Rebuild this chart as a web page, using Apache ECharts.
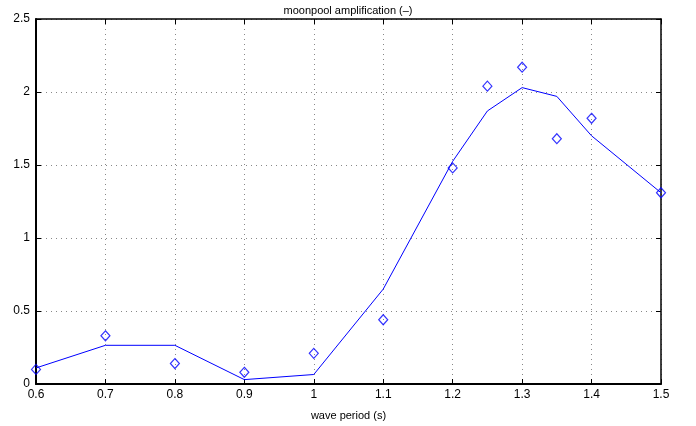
<!DOCTYPE html>
<html>
<head>
<meta charset="utf-8">
<script src="https://cdn.jsdelivr.net/npm/echarts@6/dist/echarts.min.js"></script>
<style>
  html, body { margin: 0; padding: 0; background: #fff; }
  #chart { width: 696px; height: 426px; }
</style>
</head>
<body>
<div id="chart"></div>
<script>
// wave periods (s)
var periods = [0.6, 0.7, 0.8, 0.9, 1.0, 1.1, 1.2, 1.25, 1.3, 1.35, 1.4, 1.5];
// fitted / computed amplification (line)
var lineValues = [0.11, 0.265, 0.265, 0.03, 0.065, 0.65, 1.525, 1.87, 2.03, 1.97, 1.70, 1.31];
// measured amplification (diamonds)
var measured = [0.10, 0.33, 0.14, 0.08, 0.21, 0.44, 1.48, 2.04, 2.17, 1.68, 1.82, 1.31];

var chart = echarts.init(document.getElementById('chart'));

function pairs(xs, ys) {
  var out = [];
  for (var i = 0; i < xs.length; i++) out.push([xs[i], ys[i]]);
  return out;
}

var font = 'Liberation Sans, Arial, sans-serif';
var mainLine = { show: true, onZero: false, lineStyle: { color: '#000', width: 2 } };
var boxLine = { show: true, onZero: false, lineStyle: { color: '#000', width: 1.5 } };
var inTick = { show: true, inside: true, length: 5, lineStyle: { color: '#000', width: 1 } };
var dotted = { show: true, lineStyle: { color: '#888', type: [1, 4], width: 1 } };

var option = {
  backgroundColor: '#ffffff',
  animation: false,
  title: {
    text: 'moonpool amplification (\u2013)',
    left: 'center',
    top: 0,
    textStyle: { fontFamily: font, fontSize: 11, fontWeight: 'normal', color: '#000' }
  },
  grid: { left: 36, right: 35, top: 19, bottom: 41 },
  xAxis: [{
    type: 'value',
    min: 0.6, max: 1.5, interval: 0.1,
    name: 'wave period (s)',
    nameLocation: 'middle',
    nameGap: 26,
    nameTextStyle: { fontFamily: font, fontSize: 11, color: '#000' },
    axisLine: mainLine,
    axisTick: inTick,
    axisLabel: { fontFamily: font, fontSize: 12, color: '#000', margin: 5 },
    splitLine: dotted
  }, {
    type: 'value', position: 'top',
    min: 0.6, max: 1.5, interval: 0.1,
    axisLine: boxLine, axisTick: inTick,
    axisLabel: { show: false }, splitLine: { show: false }
  }],
  yAxis: [{
    type: 'value',
    min: 0, max: 2.5, interval: 0.5,
    axisLine: mainLine,
    axisTick: inTick,
    axisLabel: { fontFamily: font, fontSize: 12, color: '#000', margin: 6 },
    splitLine: dotted
  }, {
    type: 'value', position: 'right',
    min: 0, max: 2.5, interval: 0.5,
    axisLine: boxLine, axisTick: inTick,
    axisLabel: { show: false }, splitLine: { show: false }
  }],
  series: [{
    name: 'computed',
    type: 'line',
    data: pairs(periods, lineValues),
    showSymbol: false,
    lineStyle: { color: '#0000ff', width: 1 },
    z: 3
  }, {
    name: 'measured',
    type: 'scatter',
    data: pairs(periods, measured),
    symbol: 'diamond',
    symbolSize: [9, 10],
    itemStyle: { color: 'rgba(255,255,255,0)', borderColor: '#0000ff', borderWidth: 1.2 },
    z: 4
  }]
};

chart.setOption(option);
</script>
</body>
</html>
